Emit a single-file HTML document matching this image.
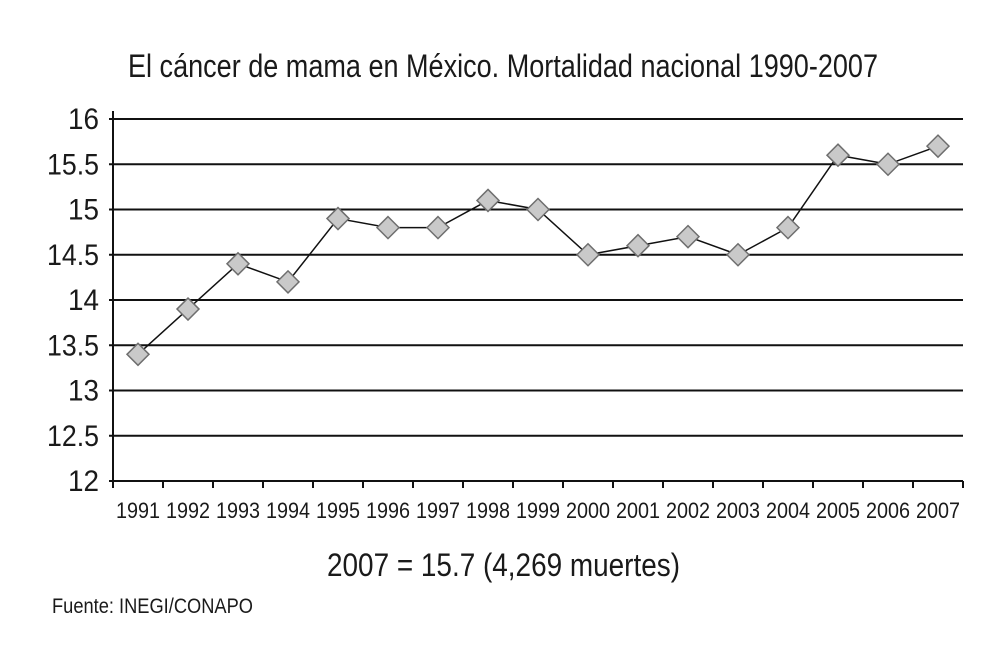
<!DOCTYPE html>
<html><head><meta charset="utf-8"><style>
body{margin:0;background:#fff}
svg text{font-family:"Liberation Sans Narrow","Liberation Sans",sans-serif;fill:#1a1a1a}
</style></head><body>
<svg id="chart" width="995" height="654" viewBox="0 0 995 654" xmlns="http://www.w3.org/2000/svg">
<text x="128" y="77" font-size="32" textLength="750" lengthAdjust="spacingAndGlyphs">El cáncer de mama en México. Mortalidad nacional 1990-2007</text>
<g id="grid"></g>
<g id="axes"></g>
<g id="series"></g>
<text x="327" y="576" font-size="32" textLength="353" lengthAdjust="spacingAndGlyphs">2007 = 15.7 (4,269 muertes)</text>
<text x="52" y="613" font-size="21" textLength="201" lengthAdjust="spacingAndGlyphs">Fuente: INEGI/CONAPO</text>
</svg>
<script>
const years=["1991","1992","1993","1994","1995","1996","1997","1998","1999","2000","2001","2002","2003","2004","2005","2006","2007"];
const rates=[13.4,13.9,14.4,14.2,14.9,14.8,14.8,15.1,15.0,14.5,14.6,14.7,14.5,14.8,15.6,15.5,15.7];
const yTicks=[12,12.5,13,13.5,14,14.5,15,15.5,16];
const yTickLabels=["12","12.5","13","13.5","14","14.5","15","15.5","16"];
const NS="http://www.w3.org/2000/svg";
const X0=113,X1=963,Y0=481,Y1=119,yMin=12,yMax=16;
const bw=(X1-X0)/years.length;
const xPos=i=>X0+bw*(i+0.5);
const yPos=v=>Y0-(v-yMin)/(yMax-yMin)*(Y0-Y1);
function mk(tag,attrs,parent){const e=document.createElementNS(NS,tag);for(const k in attrs)e.setAttribute(k,attrs[k]);parent.appendChild(e);return e;}
const grid=document.getElementById('grid'),axes=document.getElementById('axes'),series=document.getElementById('series');
yTicks.forEach((t,i)=>{
  const y=yPos(t);
  const l=mk('line',{x1:X0-4,x2:X1,y1:y,y2:y,stroke:'#111','stroke-width':2},grid);
  
  
  const lab=yTickLabels[i];
  const tx=mk('text',{x:X0-14,y:y+10,'font-size':30,'text-anchor':'end',textLength:lab.length>2?52:31,lengthAdjust:'spacingAndGlyphs'},axes);
  tx.textContent=lab;
  
  
});
const ya=mk('line',{x1:X0,x2:X0,y1:Y1-8,y2:Y0,stroke:'#111','stroke-width':2},axes);


for(let i=0;i<=years.length;i++){
  const x=X0+bw*i;
  const t=mk('line',{x1:x,x2:x,y1:Y0,y2:Y0+7,stroke:'#111','stroke-width':2},axes);
  
  
}
years.forEach((yr,i)=>{
  const tx=mk('text',{x:xPos(i),y:Y0+37,'font-size':22,'text-anchor':'middle',textLength:44,lengthAdjust:'spacingAndGlyphs'},axes);
  tx.textContent=yr;
  
  
});
const pts=rates.map((v,i)=>xPos(i)+','+yPos(v)).join(' ');
const pl=mk('polyline',{points:pts,fill:'none',stroke:'#111','stroke-width':1.5},series);


rates.forEach((v,i)=>{
  const x=xPos(i),y=yPos(v),r=11;
  const d=mk('polygon',{points:`${x},${y-r} ${x+r},${y} ${x},${y+r} ${x-r},${y}`,fill:'#c9c9c9',stroke:'#6e6e6e','stroke-width':1.5},series);
  
  
});
</script>
</body></html>
